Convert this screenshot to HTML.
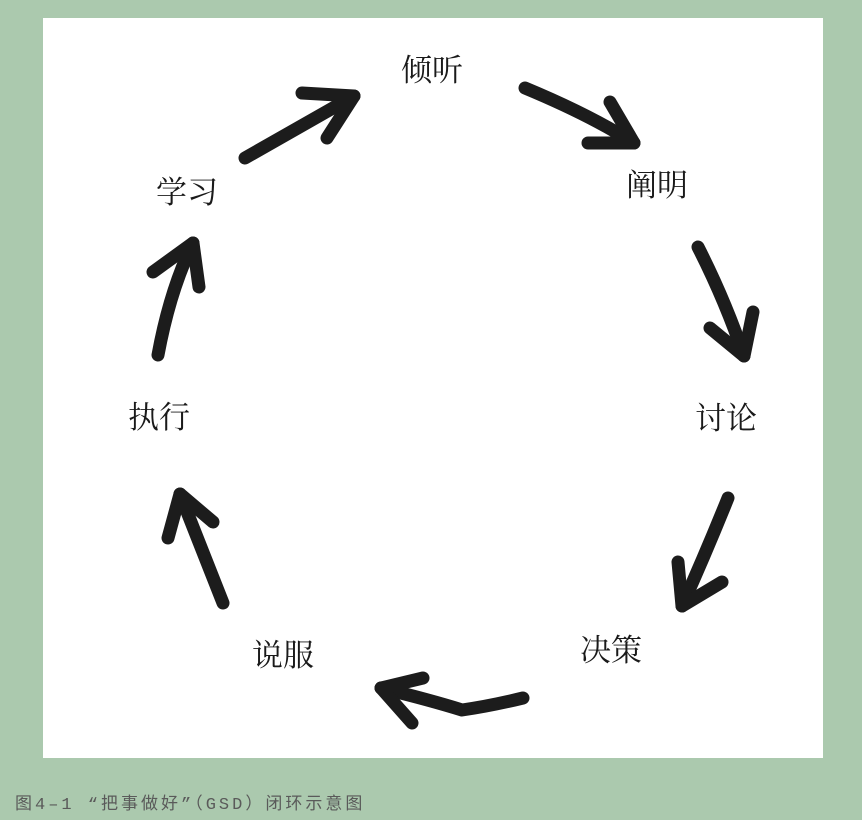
<!DOCTYPE html>
<html><head><meta charset="utf-8"><style>
html,body{margin:0;padding:0}
body{width:862px;height:820px;background:#abc9ae;position:relative;overflow:hidden}
.panel{position:absolute;left:43px;top:18px;width:780px;height:740px;background:#fff}
svg{position:absolute;left:0;top:0}
.cap{position:absolute;left:15px;top:789px;font:17px "Liberation Mono","Noto Sans CJK SC",monospace;color:#5a5a5a;letter-spacing:3px;white-space:nowrap}
</style></head><body>
<div class="panel"></div>
<svg width="862" height="820" viewBox="0 0 862 820">
<g fill="none" stroke="#1c1c1c" stroke-width="13" stroke-linecap="round" stroke-linejoin="round">
<path d="M245 158 L354 96"/><path d="M302 93 L354 96 L327 138"/>
<path d="M525 88 Q590 115 634 143"/><path d="M610 102 L634 143 L588 143"/>
<path d="M698 247 Q725 300 744 356"/><path d="M710 328 L744 356 L753 312"/>
<path d="M728 498 Q705 555 682 606"/><path d="M678 562 L682 606 L722 582"/>
<path d="M523 698 Q490 706 462 710 Q430 700 381 688"/><path d="M423 678 L381 688 L412 723"/>
<path d="M223 603 L180 494"/><path d="M168 538 L180 494 L213 522"/>
<path d="M158 355 Q170 290 193 243"/><path d="M153 272 L193 243 L199 287"/>
</g>
<g font-family="Liberation Serif,'Noto Serif CJK SC',serif" font-size="31" fill="#1a1a1a" text-anchor="middle">
<text x="432" y="81">倾听</text>
<text x="657" y="196">阐明</text>
<text x="726" y="429">讨论</text>
<text x="611" y="661">决策</text>
<text x="283" y="666">说服</text>
<text x="159" y="428">执行</text>
<text x="187" y="203">学习</text>
</g>
</svg>
<div class="cap">图4–1 “把事做好”（GSD）闭环示意图</div>
</body></html>
